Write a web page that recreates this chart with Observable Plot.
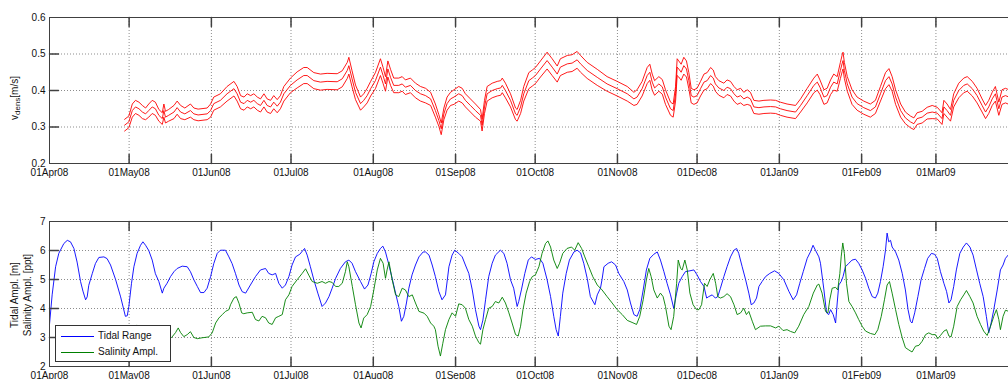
<!DOCTYPE html>
<html><head><meta charset="utf-8">
<script src="https://cdn.jsdelivr.net/npm/d3@7"></script>
<script src="https://cdn.jsdelivr.net/npm/@observablehq/plot@0.6"></script>
<style>
html,body{margin:0;padding:0;background:#fff;}
#wrap{position:relative;width:1008px;height:379px;overflow:hidden;font-family:"Liberation Sans",Arial,sans-serif;}
#wrap svg{position:absolute;left:0;max-width:none;}
.legend{position:absolute;left:55px;top:325px;width:114px;height:35px;border:1px solid #333;background:#fff;font-size:10px;color:#111;}
.legend .row{position:absolute;left:5px;height:12px;line-height:12px;}
.legend .sw{position:absolute;left:0;top:6px;width:33px;height:0;border-top:1px solid;}
.legend .lb{position:absolute;left:37px;top:0;white-space:nowrap;}
</style></head><body><div id="wrap"></div>
<script>
// ---------- tick definitions ----------
const monthTicks = ["2008-04-01","2008-05-01","2008-06-01","2008-07-01","2008-08-01","2008-09-01","2008-10-01","2008-11-01","2008-12-01","2009-01-01","2009-02-01","2009-03-01"];
const monthLabels = ["01Apr08","01May08","01Jun08","01Jul08","01Aug08","01Sep08","01Oct08","01Nov08","01Dec08","01Jan09","01Feb09","01Mar09"];
const xStartStr = "2008-04-01", xEndStr = "2009-04-01";
const vTicks = [0.2,0.3,0.4,0.5,0.6];
const vTickLabels = ["0.2","0.3","0.4","0.5","0.6"];
const ampTicks = [2,3,4,5,6,7];
const ampTickLabels = ["2","3","4","5","6","7"];

// ---------- v_dens (days since 01Apr08) ----------
const vDay = [28.3,29.9,31.2,32.4,33.7,35.0,36.2,37.4,38.7,39.9,41.2,42.5,43.1,43.7,44.9,46.9,48.1,49.4,51.0,53.1,54.4,56.0,59.4,60.7,61.9,64.4,66.9,69.5,70.7,72.0,73.3,74.5,75.8,77.0,78.3,79.5,80.8,82.0,83.3,84.5,85.8,87.0,88.3,90.8,93.3,95.8,97.1,99.6,102.1,104.6,108.4,110.3,112.2,112.8,114.0,115.3,117.2,118.4,119.7,121.0,122.8,124.7,125.7,126.6,127.5,128.5,129.7,131.6,132.9,134.1,136.0,137.9,139.8,141.7,143.6,145.4,146.7,147.6,148.6,149.8,151.1,152.4,154.2,155.5,156.7,158.6,160.5,162.4,163.0,163.9,164.9,166.8,168.7,170.0,170.6,171.8,173.7,175.6,176.2,177.5,178.7,180.6,181.9,183.1,185.0,187.5,189.4,191.3,192.5,195.1,196.9,198.8,200.1,202.6,206.4,210.1,213.9,217.7,220.2,221.4,223.3,225.2,226.2,227.1,228.0,229.6,230.9,232.1,234.0,235.0,235.9,236.5,237.1,238.0,239.0,240.0,240.9,241.8,242.8,244.0,245.3,246.6,247.8,249.1,250.1,250.9,252.2,254.1,255.3,256.6,257.9,259.1,260.4,261.6,262.9,264.1,265.4,267.3,269.2,271.7,273.6,275.4,277.9,281.1,283.0,285.5,288.0,289.3,290.3,291.8,293.0,294.3,295.5,296.8,298.0,298.7,299.0,299.5,300.6,302.4,304.3,306.8,309.3,311.2,313.1,315.0,316.3,317.5,318.8,320.7,322.5,324.4,325.7,326.9,328.8,330.7,332.6,334.5,336.3,337.0,338.2,339.5,340.7,342.6,344.5,345.8,347.7,349.5,351.4,352.7,353.9,355.2,356.4,357.7,358.9,360.2,361.5];
const vMid = [.305,.314,.345,.355,.350,.341,.336,.345,.355,.350,.332,.323,.345,.327,.332,.341,.353,.341,.336,.345,.336,.333,.336,.345,.364,.373,.391,.405,.391,.368,.364,.373,.368,.373,.364,.359,.373,.359,.355,.368,.357,.368,.391,.414,.429,.441,.441,.427,.423,.425,.424,.432,.455,.468,.432,.395,.364,.373,.386,.405,.427,.464,.441,.418,.459,.436,.414,.414,.418,.409,.414,.400,.391,.386,.377,.345,.318,.295,.336,.364,.377,.382,.391,.386,.373,.359,.345,.332,.305,.355,.391,.400,.405,.407,.414,.400,.373,.336,.332,.355,.391,.427,.434,.441,.459,.482,.464,.445,.464,.473,.475,.484,.473,.455,.436,.418,.405,.391,.377,.382,.405,.441,.450,.423,.407,.418,.410,.382,.350,.345,.391,.464,.459,.450,.468,.459,.427,.386,.382,.386,.405,.423,.427,.441,.434,.418,.407,.400,.409,.405,.391,.382,.386,.377,.382,.377,.355,.353,.355,.356,.355,.350,.345,.341,.359,.386,.414,.423,.409,.382,.386,.409,.423,.418,.455,.475,.482,.455,.418,.382,.364,.353,.345,.355,.391,.427,.438,.418,.382,.345,.325,.314,.309,.323,.327,.338,.341,.338,.323,.355,.345,.332,.373,.400,.414,.418,.405,.386,.359,.341,.355,.377,.391,.350,.382,.386,.382];
const vUpper = [.321,.330,.363,.373,.368,.359,.352,.363,.373,.368,.348,.339,.363,.343,.348,.359,.371,.359,.352,.363,.352,.349,.352,.363,.382,.391,.411,.425,.411,.386,.382,.391,.386,.391,.382,.377,.391,.377,.373,.386,.375,.386,.411,.434,.451,.463,.463,.449,.445,.447,.446,.454,.477,.491,.454,.415,.382,.391,.406,.425,.449,.487,.463,.438,.481,.458,.434,.434,.438,.429,.434,.420,.411,.406,.395,.363,.334,.311,.352,.382,.395,.402,.411,.406,.391,.377,.363,.348,.321,.373,.411,.420,.425,.427,.434,.420,.391,.352,.348,.373,.411,.449,.456,.463,.481,.505,.487,.467,.487,.496,.498,.507,.496,.477,.458,.438,.425,.411,.395,.402,.425,.463,.472,.445,.427,.438,.430,.402,.368,.363,.411,.487,.481,.472,.491,.481,.449,.406,.402,.406,.425,.445,.449,.463,.456,.438,.427,.420,.429,.425,.411,.402,.406,.395,.402,.395,.373,.371,.373,.374,.373,.368,.363,.359,.377,.406,.434,.445,.429,.402,.406,.429,.445,.438,.477,.498,.505,.477,.438,.402,.382,.371,.363,.373,.411,.449,.460,.438,.402,.363,.341,.330,.325,.339,.343,.354,.359,.354,.339,.373,.363,.348,.391,.420,.434,.438,.425,.406,.377,.359,.373,.395,.411,.368,.402,.406,.402];
const vLower = [.289,.298,.327,.337,.332,.323,.320,.327,.337,.332,.316,.307,.327,.311,.316,.323,.335,.323,.320,.327,.320,.317,.320,.327,.346,.355,.371,.385,.371,.350,.346,.355,.350,.355,.346,.341,.355,.341,.337,.350,.339,.350,.371,.394,.407,.419,.419,.405,.401,.403,.402,.410,.433,.445,.410,.375,.346,.355,.366,.385,.405,.441,.419,.398,.437,.414,.394,.394,.398,.389,.394,.380,.371,.366,.359,.327,.302,.279,.320,.346,.359,.362,.371,.366,.355,.341,.327,.316,.289,.337,.371,.380,.385,.387,.394,.380,.355,.320,.316,.337,.371,.405,.412,.419,.437,.459,.441,.423,.441,.450,.452,.461,.450,.433,.414,.398,.385,.371,.359,.362,.385,.419,.428,.401,.387,.398,.390,.362,.332,.327,.371,.441,.437,.428,.445,.437,.405,.366,.362,.366,.385,.401,.405,.419,.412,.398,.387,.380,.389,.385,.371,.362,.366,.359,.362,.359,.337,.335,.337,.338,.337,.332,.327,.323,.341,.366,.394,.401,.389,.362,.366,.389,.401,.398,.433,.452,.459,.433,.398,.362,.346,.335,.327,.337,.371,.405,.416,.398,.362,.327,.309,.298,.293,.307,.311,.322,.323,.322,.307,.337,.327,.316,.355,.380,.394,.398,.385,.366,.341,.323,.337,.359,.371,.332,.362,.366,.362];

// ---------- Tidal range [m] ----------
const tidalDay = [0,1.0,2.3,3.5,5.4,6.7,7.9,9.2,10.4,11.7,12.6,13.6,14.2,14.8,16.1,17.3,18.6,20.5,21.7,23.0,24.9,26.8,28.6,29.3,29.9,30.9,31.8,33.0,34.3,35.2,36.2,37.4,38.7,39.9,41.2,42.5,43.1,44.3,45.6,46.9,48.1,50.0,51.9,53.1,54.4,55.7,56.9,58.2,59.4,60.7,61.9,63.2,64.4,66.3,67.6,68.8,70.1,71.4,72.6,73.9,75.7,77.6,79.5,81.4,82.6,83.9,85.2,86.4,87.7,88.9,90.2,91.4,92.7,94.3,96.1,97.1,98.3,99.6,101.1,102.7,104.0,105.3,106.5,107.8,109.6,111.5,112.8,114.0,115.3,117.2,118.7,120.0,121.2,122.2,123.5,124.7,125.6,126.6,127.9,129.1,130.4,131.6,132.6,133.5,134.5,135.4,136.6,137.9,139.2,140.8,141.7,143.0,144.2,145.4,146.7,147.9,149.2,150.5,151.7,152.7,154.2,155.5,156.7,158.0,159.3,160.5,161.8,162.4,163.3,164.3,165.5,166.8,168.0,169.9,171.2,172.4,173.7,174.9,176.2,176.8,177.8,179.1,180.4,181.6,183.1,184.6,185.9,187.5,188.8,190.0,190.9,191.7,192.5,193.4,194.7,195.9,197.6,198.8,200.1,201.3,202.6,203.8,205.5,206.4,207.6,208.2,208.9,210.5,211.8,213.3,214.5,216.4,217.7,218.9,220.2,221.4,222.4,223.7,224.9,226.2,227.7,229.0,230.2,231.5,232.7,234.0,235.2,236.3,237.1,238.4,239.6,241.3,242.8,244.0,245.3,246.6,247.6,248.4,249.7,250.9,251.8,252.8,254.1,255.3,256.6,257.9,258.9,259.7,261.0,262.3,263.5,264.4,265.4,266.4,267.3,268.5,269.8,271.4,273.2,274.8,276.7,278.6,280.2,281.5,282.7,284.0,285.5,286.7,287.7,288.6,289.9,290.5,291.8,292.8,293.6,294.3,295.3,296.2,296.8,297.4,298.3,299.0,299.9,301.2,302.4,303.7,304.9,306.2,307.5,308.7,310.0,311.2,312.1,313.1,314.1,315.0,315.6,316.2,316.9,317.5,318.8,320.0,321.3,322.5,323.5,324.4,325.0,326.0,327.2,328.4,329.7,330.9,332.3,333.5,334.5,335.7,337.0,338.0,338.9,339.7,340.7,341.7,343.0,344.3,345.5,346.8,348.0,349.3,350.5,351.8,353.0,353.9,354.8,355.8,357.1,358.3,359.3,360.2,361.2];
const tidalRange = [3.45,4.47,5.44,5.90,6.24,6.35,6.30,6.07,5.60,4.93,4.60,4.30,4.40,4.80,5.20,5.55,5.76,5.78,5.72,5.50,5.00,4.40,3.73,3.75,4.07,4.87,5.44,5.90,6.18,6.30,6.18,6.00,5.67,5.20,4.93,4.53,4.70,4.87,5.10,5.27,5.38,5.46,5.44,5.27,4.99,4.76,4.55,4.55,4.70,5.10,5.55,5.90,6.01,6.01,5.78,5.55,5.20,4.81,4.58,4.53,4.81,5.10,5.33,5.38,5.21,5.16,5.21,4.87,4.70,4.81,5.10,5.50,5.78,5.87,6.07,5.84,5.44,4.99,4.53,4.07,4.19,4.41,4.70,5.04,5.38,5.61,5.67,5.56,5.27,4.93,4.67,4.81,5.21,5.61,5.90,6.07,6.15,5.95,5.50,5.04,4.53,4.07,3.56,3.73,4.19,4.70,5.16,5.50,5.78,5.95,5.95,5.84,5.50,5.10,4.59,4.30,4.47,5.44,5.84,6.01,5.90,5.78,5.50,5.21,4.64,3.96,3.39,3.27,3.60,4.30,5.10,5.56,5.84,6.01,5.90,5.56,4.99,4.70,4.07,4.24,4.64,5.21,5.67,5.78,5.69,5.73,5.56,4.99,4.41,3.73,3.27,3.05,3.73,4.53,5.21,5.67,5.95,6.01,5.92,5.56,5.04,4.41,4.13,4.47,4.70,5.00,5.44,5.56,5.61,5.50,5.21,4.93,4.64,4.19,3.79,3.73,3.96,4.64,5.33,5.73,5.87,5.95,5.67,5.27,4.87,4.47,4.01,4.53,4.87,5.10,5.27,5.30,5.33,5.16,4.93,4.76,4.36,4.41,4.47,4.36,4.41,4.70,5.10,5.44,5.78,6.01,6.07,5.90,5.44,4.99,4.53,4.13,4.19,4.36,4.76,4.93,5.10,5.21,5.30,5.21,4.99,4.59,4.30,4.47,4.87,5.27,5.73,5.95,6.18,6.01,5.78,5.56,4.64,3.85,3.79,3.96,3.79,3.50,4.19,4.81,4.93,5.10,5.44,5.56,5.67,5.70,5.56,5.33,5.04,4.70,4.41,4.36,4.53,4.93,5.44,6.01,6.60,6.30,6.35,6.12,5.95,5.67,5.21,4.64,3.96,3.56,3.50,3.85,4.41,4.99,5.38,5.73,5.90,5.87,5.73,5.27,4.87,4.59,4.19,4.30,4.76,5.33,5.90,6.12,6.26,6.12,5.84,5.33,4.87,4.41,3.73,3.16,3.50,3.96,4.64,5.33,5.50,5.73,5.84];

// ---------- Salinity amplitude [ppt] ----------
const salDay = [27.0,30.0,31.8,33.0,35.0,38.0,42.0,46.0,47.5,48.5,49.4,50.6,51.9,53.1,54.4,55.7,57.5,60.0,61.3,62.6,63.8,65.1,66.3,67.6,68.2,69.5,70.4,71.4,72.4,73.2,74.5,76.4,77.6,78.9,80.1,81.4,82.6,83.9,85.2,86.4,87.7,88.9,90.2,91.4,93.3,95.2,96.5,97.7,99.0,100.9,102.7,104.0,105.3,106.5,107.8,109.0,110.3,111.5,112.2,112.8,114.1,115.3,116.6,117.4,118.4,119.7,121.0,122.2,123.5,124.7,125.7,126.6,127.2,127.9,129.1,130.4,131.6,132.9,134.1,135.4,136.7,137.9,139.2,141.1,142.3,143.6,144.8,145.4,146.4,147.3,148.2,149.2,150.5,151.7,153.0,154.2,155.5,156.7,158.0,159.3,160.5,161.8,162.4,163.3,164.3,165.5,166.8,168.0,169.3,170.6,171.8,173.1,174.3,175.6,176.6,177.5,178.4,179.6,180.9,181.9,183.1,184.4,185.6,186.9,187.8,188.8,190.0,191.3,192.2,193.4,195.0,196.7,197.9,199.2,200.5,201.7,203.2,204.7,206.4,208.2,210.1,212.0,213.9,215.8,217.7,219.5,221.2,222.4,223.7,224.9,225.8,226.7,227.7,229.0,230.2,231.2,232.1,233.4,234.2,235.2,236.3,236.9,237.8,238.4,239.4,240.3,241.3,242.5,243.8,244.7,245.7,246.8,247.8,248.8,250.1,251.0,251.8,252.8,254.1,255.3,256.6,257.9,259.1,260.4,261.6,262.6,263.5,264.8,266.0,267.9,269.8,271.7,273.6,274.8,276.4,277.9,279.2,280.8,282.3,284.2,286.1,287.8,289.3,289.9,291.1,292.4,293.3,294.0,294.9,296.2,297.0,297.8,298.3,298.9,299.5,300.3,301.2,302.4,303.7,304.9,306.2,307.5,309.3,311.0,312.1,313.4,314.6,315.6,316.5,317.5,318.8,320.0,321.3,322.5,323.8,325.0,326.3,327.6,328.8,330.1,331.3,332.6,333.8,334.7,335.7,337.0,338.0,338.9,339.7,340.7,342.0,343.3,344.5,345.5,346.8,348.0,349.5,350.8,352.0,353.3,354.6,355.8,356.8,357.7,358.3,359.3,360.2,361.5];
const salAmpl = [3.25,3.35,3.40,3.42,3.30,3.10,3.00,3.00,3.17,3.33,3.17,3.03,3.10,3.20,3.00,2.96,2.99,3.02,3.16,3.50,3.67,3.79,3.90,3.96,4.13,4.36,4.41,4.18,3.85,3.82,3.85,3.87,3.62,3.57,3.73,3.68,3.50,3.45,3.68,3.73,3.79,4.30,4.47,4.76,4.99,5.21,5.37,5.15,4.93,4.87,4.93,4.87,4.93,4.90,4.76,4.76,4.87,5.27,5.61,5.44,4.76,4.13,3.50,3.33,3.67,3.79,4.07,4.64,5.33,5.73,5.56,5.04,5.33,5.61,5.00,4.47,4.41,4.70,4.64,4.41,4.47,4.19,3.90,3.84,3.73,3.50,3.39,3.27,2.70,2.36,2.80,3.27,3.62,3.85,3.73,4.16,4.13,4.01,3.62,3.39,3.05,2.82,2.77,3.27,3.62,4.01,4.07,4.24,4.19,4.39,4.19,3.85,3.50,3.10,3.05,3.39,3.96,4.53,4.93,5.10,5.16,5.44,5.90,6.24,6.33,6.12,5.67,5.38,5.56,5.90,6.07,6.12,6.01,6.27,6.07,5.78,5.44,5.10,4.81,4.64,4.41,4.19,3.96,3.79,3.59,3.52,3.45,3.73,4.30,4.99,5.38,5.10,4.64,4.36,4.53,4.41,4.07,3.39,3.27,3.73,4.87,5.67,5.38,5.33,5.67,5.33,4.53,4.13,3.96,3.96,4.13,4.87,4.76,4.99,5.21,4.87,4.41,4.36,4.41,4.51,4.41,4.13,3.79,3.85,4.01,3.79,3.90,3.56,3.27,3.39,3.40,3.40,3.33,3.39,3.24,3.27,3.21,3.16,3.39,3.79,4.07,4.53,4.81,4.84,4.53,3.90,3.85,4.30,4.70,4.73,4.64,5.21,5.78,6.26,5.90,4.87,4.24,4.07,3.85,3.62,3.39,3.22,3.14,3.10,3.27,3.73,4.30,4.81,4.93,4.53,3.96,3.45,2.99,2.65,2.57,2.50,2.70,2.73,2.87,3.10,3.16,3.10,3.10,2.96,3.07,3.22,3.27,3.05,3.02,3.39,4.07,4.30,4.47,4.62,4.41,4.19,3.73,3.45,3.22,3.07,3.39,3.73,3.96,3.62,3.27,3.73,3.94,3.90];

(function () {
// ---------- helpers ----------
const START = Date.UTC(2008, 3, 1);
const dayToDate = d => new Date(START + d * 864e5);
const monthDates = monthTicks.map(s => new Date(s + "T00:00:00Z"));
const xStart = new Date(xStartStr + "T00:00:00Z"), xEnd = new Date(xEndStr + "T00:00:00Z");
const monthLabelOf = new Map(monthDates.map((d, i) => [+d, monthLabels[i]]));
const rows = (days, vals) => days.map((d, i) => ({date: dayToDate(d), v: vals[i]}));

const tickUp = {draw(c, l) { c.moveTo(0, 0); c.lineTo(0, -l); }};
const tickDown = {draw(c, l) { c.moveTo(0, 0); c.lineTo(0, l); }};
const tickRight = {draw(c, l) { c.moveTo(0, 0); c.lineTo(l, 0); }};

const FONT = "'Liberation Sans', Arial, Helvetica, sans-serif";
const FRAME = "#404040";
const TICKLEN = 9;

function panel({height, marginTop, marginBottom, yDomain, yTicks, yLabels, lines}) {
  const [y0, y1] = yDomain;
  const yLabelOf = new Map(yTicks.map((t, i) => [t, yLabels[i]]));
  const inner = yTicks.filter(t => t > y0 && t < y1);
  const grid = {stroke: "#000", strokeOpacity: 0.45, strokeWidth: 1, strokeDasharray: "1,2"};
  return Plot.plot({
    width: 1008, height, marginLeft: 49, marginRight: 0, marginTop, marginBottom,
    style: {fontFamily: FONT, fontSize: "10px", color: "#111", background: "transparent", overflow: "hidden"},
    x: {type: "utc", domain: [xStart, xEnd], range: [49, 1017.7]},
    y: {domain: yDomain},
    marks: [
      Plot.ruleX(monthDates.slice(1), {x: d => d, y1: () => y0, y2: () => y1, ...grid}),
      Plot.ruleY(inner, {y: d => d, x1: () => xStart, x2: () => xEnd, ...grid}),
      ...lines.map(({data, stroke}) => Plot.line(data, {x: "date", y: "v", stroke, strokeWidth: 0.9, curve: "linear"})),
      Plot.ruleY([y0, y1], {y: d => d, x1: () => xStart, x2: () => xEnd, stroke: FRAME, strokeWidth: 1}),
      Plot.ruleX([xStart, xEnd], {x: d => d, y1: () => y0, y2: () => y1, stroke: FRAME, strokeWidth: 1}),
      Plot.vector(monthDates.slice(1), {x: d => d, y: () => y0, length: TICKLEN, shape: tickUp, anchor: "start", stroke: FRAME}),
      Plot.vector(monthDates.slice(1), {x: d => d, y: () => y1, length: TICKLEN, shape: tickDown, anchor: "start", stroke: FRAME}),
      Plot.vector(inner, {x: () => xStart, y: d => d, length: TICKLEN, shape: tickRight, anchor: "start", stroke: FRAME}),
      Plot.axisX(monthDates, {anchor: "bottom", tickSize: 0, tickPadding: 5, tickFormat: d => monthLabelOf.get(+d), label: null, fontSize: 10, fill: "#111"}),
      Plot.axisY(yTicks, {anchor: "left", tickSize: 0, tickPadding: 4, tickFormat: d => yLabelOf.get(d), label: null, fontSize: 10, fill: "#111"})
    ]
  });
}

const wrap = document.getElementById("wrap");

const topChart = panel({
  height: 190, marginTop: 17, marginBottom: 27, yDomain: [0.2, 0.6], yTicks: vTicks, yLabels: vTickLabels,
  lines: [
    {data: rows(vDay, vUpper), stroke: "#ff0000"},
    {data: rows(vDay, vMid), stroke: "#ff0000"},
    {data: rows(vDay, vLower), stroke: "#ff0000"}
  ]
});
topChart.style.top = "0px";
wrap.appendChild(topChart);

const bottomChart = panel({
  height: 189, marginTop: 31, marginBottom: 13, yDomain: [2, 7], yTicks: ampTicks, yLabels: ampTickLabels,
  lines: [
    {data: rows(tidalDay, tidalRange), stroke: "#0000ff"},
    {data: rows(salDay, salAmpl), stroke: "#008000"}
  ]
});
bottomChart.style.top = "190px";
wrap.appendChild(bottomChart);

// y-axis titles
const ts = d3.select(topChart);
const t1 = ts.append("text").attr("transform", "translate(17.5,98) rotate(-90)")
  .attr("text-anchor", "middle").attr("font-size", 10).attr("fill", "#111").attr("font-family", FONT);
t1.append("tspan").text("v");
t1.append("tspan").attr("font-size", 8).attr("dy", 2.5).text("dens");
t1.append("tspan").attr("dy", -2.5).text("[m/s]");

const bs = d3.select(bottomChart);
bs.append("text").attr("transform", "translate(17.5,105) rotate(-90)")
  .attr("text-anchor", "middle").attr("font-size", 10).attr("fill", "#111").attr("font-family", FONT)
  .text("Tidal Ampl. [m]");
bs.append("text").attr("transform", "translate(30.5,105) rotate(-90)")
  .attr("text-anchor", "middle").attr("font-size", 10).attr("fill", "#111").attr("font-family", FONT)
  .text("Salinity Ampl. [ppt]");

// legend
const legendItems = [{label: "Tidal Range", color: "#0000ff"}, {label: "Salinity Ampl.", color: "#008000"}];
const lg = document.createElement("div");
lg.className = "legend";
legendItems.forEach((it, i) => {
  const r = document.createElement("div");
  r.className = "row";
  r.style.top = (4 + i * 16) + "px";
  r.innerHTML = `<span class="sw" style="border-color:${it.color}"></span><span class="lb">${it.label}</span>`;
  lg.appendChild(r);
});
wrap.appendChild(lg);
})();
</script></body></html>
